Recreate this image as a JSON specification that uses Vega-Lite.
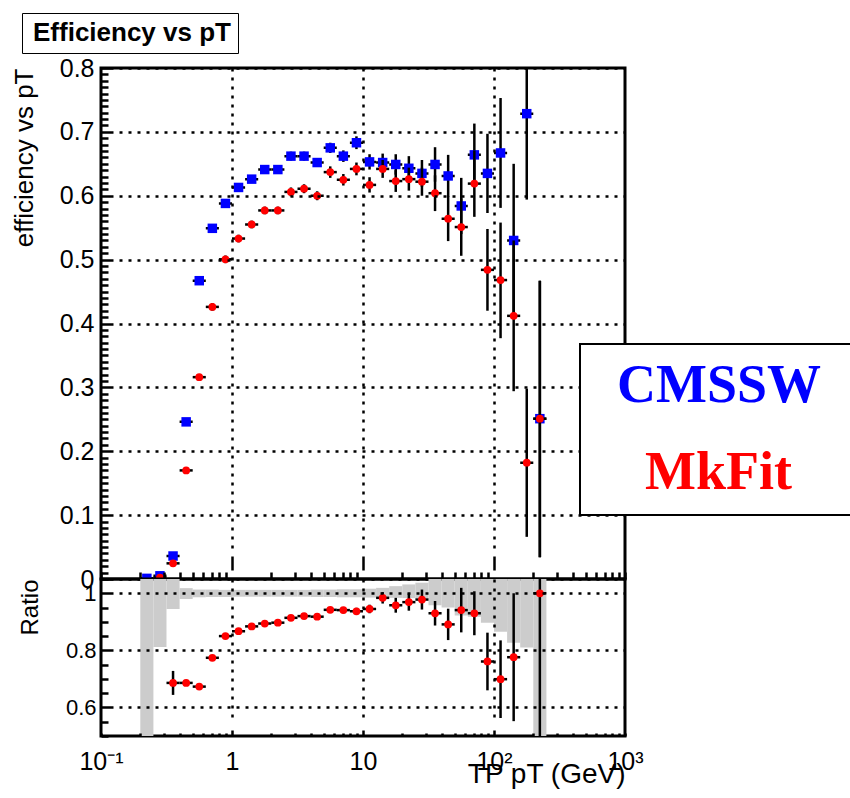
{
  "$schema": "https://vega.github.io/schema/vega-lite/v6.json",
  "padding": {"left": 9, "top": 12, "right": 0, "bottom": 0},
  "background": "white",
  "spacing": 0,
  "bounds": "flush",
  "datasets": {
    "d": [
      {"s":"CMSSW","x":0.2239,"lo":0.1995,"hi":0.2512,"y":0.001,"yl":0.0,"yh":0.002},
      {"s":"CMSSW","x":0.2818,"lo":0.2512,"hi":0.3162,"y":0.005,"yl":0.003,"yh":0.007},
      {"s":"CMSSW","x":0.3548,"lo":0.3162,"hi":0.3981,"y":0.036,"yl":0.031,"yh":0.041},
      {"s":"CMSSW","x":0.4467,"lo":0.3981,"hi":0.5012,"y":0.246,"yl":0.240,"yh":0.252},
      {"s":"CMSSW","x":0.5623,"lo":0.5012,"hi":0.6310,"y":0.467,"yl":0.461,"yh":0.473},
      {"s":"CMSSW","x":0.7079,"lo":0.6310,"hi":0.7943,"y":0.549,"yl":0.543,"yh":0.555},
      {"s":"CMSSW","x":0.8913,"lo":0.7943,"hi":1.0,"y":0.588,"yl":0.582,"yh":0.594},
      {"s":"CMSSW","x":1.122,"lo":1.0,"hi":1.259,"y":0.613,"yl":0.607,"yh":0.619},
      {"s":"CMSSW","x":1.413,"lo":1.259,"hi":1.585,"y":0.626,"yl":0.620,"yh":0.632},
      {"s":"CMSSW","x":1.778,"lo":1.585,"hi":1.995,"y":0.641,"yl":0.635,"yh":0.647},
      {"s":"CMSSW","x":2.239,"lo":1.995,"hi":2.512,"y":0.641,"yl":0.635,"yh":0.647},
      {"s":"CMSSW","x":2.818,"lo":2.512,"hi":3.162,"y":0.662,"yl":0.655,"yh":0.669},
      {"s":"CMSSW","x":3.548,"lo":3.162,"hi":3.981,"y":0.662,"yl":0.655,"yh":0.669},
      {"s":"CMSSW","x":4.467,"lo":3.981,"hi":5.012,"y":0.652,"yl":0.645,"yh":0.659},
      {"s":"CMSSW","x":5.623,"lo":5.012,"hi":6.310,"y":0.675,"yl":0.667,"yh":0.683},
      {"s":"CMSSW","x":7.079,"lo":6.310,"hi":7.943,"y":0.662,"yl":0.653,"yh":0.671},
      {"s":"CMSSW","x":8.913,"lo":7.943,"hi":10.0,"y":0.683,"yl":0.673,"yh":0.693},
      {"s":"CMSSW","x":11.22,"lo":10.0,"hi":12.59,"y":0.653,"yl":0.641,"yh":0.665},
      {"s":"CMSSW","x":14.13,"lo":12.59,"hi":15.85,"y":0.652,"yl":0.638,"yh":0.666},
      {"s":"CMSSW","x":17.78,"lo":15.85,"hi":19.95,"y":0.649,"yl":0.633,"yh":0.665},
      {"s":"CMSSW","x":22.39,"lo":19.95,"hi":25.12,"y":0.643,"yl":0.624,"yh":0.662},
      {"s":"CMSSW","x":28.18,"lo":25.12,"hi":31.62,"y":0.635,"yl":0.614,"yh":0.656},
      {"s":"CMSSW","x":35.48,"lo":31.62,"hi":39.81,"y":0.649,"yl":0.622,"yh":0.676},
      {"s":"CMSSW","x":44.67,"lo":39.81,"hi":50.12,"y":0.631,"yl":0.598,"yh":0.664},
      {"s":"CMSSW","x":56.23,"lo":50.12,"hi":63.10,"y":0.584,"yl":0.540,"yh":0.628},
      {"s":"CMSSW","x":70.79,"lo":63.10,"hi":79.43,"y":0.664,"yl":0.615,"yh":0.713},
      {"s":"CMSSW","x":89.13,"lo":79.43,"hi":100.0,"y":0.635,"yl":0.573,"yh":0.697},
      {"s":"CMSSW","x":112.2,"lo":100.0,"hi":125.9,"y":0.667,"yl":0.581,"yh":0.753},
      {"s":"CMSSW","x":141.3,"lo":125.9,"hi":158.5,"y":0.530,"yl":0.410,"yh":0.650},
      {"s":"CMSSW","x":177.8,"lo":158.5,"hi":199.5,"y":0.7285,"yl":0.594,"yh":0.85},
      {"s":"CMSSW","x":223.9,"lo":199.5,"hi":251.2,"y":0.251,"yl":0.034,"yh":0.467},

      {"s":"MkFit","x":0.2818,"lo":0.2512,"hi":0.3162,"y":0.002,"yl":0.001,"yh":0.003},
      {"s":"MkFit","x":0.3548,"lo":0.3162,"hi":0.3981,"y":0.0245,"yl":0.020,"yh":0.029},
      {"s":"MkFit","x":0.4467,"lo":0.3981,"hi":0.5012,"y":0.170,"yl":0.165,"yh":0.175},
      {"s":"MkFit","x":0.5623,"lo":0.5012,"hi":0.6310,"y":0.316,"yl":0.311,"yh":0.321},
      {"s":"MkFit","x":0.7079,"lo":0.6310,"hi":0.7943,"y":0.426,"yl":0.420,"yh":0.432},
      {"s":"MkFit","x":0.8913,"lo":0.7943,"hi":1.0,"y":0.5005,"yl":0.4945,"yh":0.5065},
      {"s":"MkFit","x":1.122,"lo":1.0,"hi":1.259,"y":0.533,"yl":0.527,"yh":0.539},
      {"s":"MkFit","x":1.413,"lo":1.259,"hi":1.585,"y":0.555,"yl":0.549,"yh":0.561},
      {"s":"MkFit","x":1.778,"lo":1.585,"hi":1.995,"y":0.577,"yl":0.571,"yh":0.583},
      {"s":"MkFit","x":2.239,"lo":1.995,"hi":2.512,"y":0.577,"yl":0.571,"yh":0.583},
      {"s":"MkFit","x":2.818,"lo":2.512,"hi":3.162,"y":0.606,"yl":0.599,"yh":0.613},
      {"s":"MkFit","x":3.548,"lo":3.162,"hi":3.981,"y":0.611,"yl":0.604,"yh":0.618},
      {"s":"MkFit","x":4.467,"lo":3.981,"hi":5.012,"y":0.600,"yl":0.593,"yh":0.607},
      {"s":"MkFit","x":5.623,"lo":5.012,"hi":6.310,"y":0.637,"yl":0.628,"yh":0.646},
      {"s":"MkFit","x":7.079,"lo":6.310,"hi":7.943,"y":0.625,"yl":0.616,"yh":0.634},
      {"s":"MkFit","x":8.913,"lo":7.943,"hi":10.0,"y":0.642,"yl":0.632,"yh":0.652},
      {"s":"MkFit","x":11.22,"lo":10.0,"hi":12.59,"y":0.617,"yl":0.605,"yh":0.629},
      {"s":"MkFit","x":14.13,"lo":12.59,"hi":15.85,"y":0.642,"yl":0.628,"yh":0.656},
      {"s":"MkFit","x":17.78,"lo":15.85,"hi":19.95,"y":0.623,"yl":0.606,"yh":0.640},
      {"s":"MkFit","x":22.39,"lo":19.95,"hi":25.12,"y":0.626,"yl":0.608,"yh":0.644},
      {"s":"MkFit","x":28.18,"lo":25.12,"hi":31.62,"y":0.622,"yl":0.600,"yh":0.644},
      {"s":"MkFit","x":35.48,"lo":31.62,"hi":39.81,"y":0.604,"yl":0.576,"yh":0.632},
      {"s":"MkFit","x":44.67,"lo":39.81,"hi":50.12,"y":0.564,"yl":0.529,"yh":0.599},
      {"s":"MkFit","x":56.23,"lo":50.12,"hi":63.10,"y":0.551,"yl":0.506,"yh":0.596},
      {"s":"MkFit","x":70.79,"lo":63.10,"hi":79.43,"y":0.619,"yl":0.567,"yh":0.671},
      {"s":"MkFit","x":89.13,"lo":79.43,"hi":100.0,"y":0.484,"yl":0.420,"yh":0.548},
      {"s":"MkFit","x":112.2,"lo":100.0,"hi":125.9,"y":0.468,"yl":0.377,"yh":0.558},
      {"s":"MkFit","x":141.3,"lo":125.9,"hi":158.5,"y":0.412,"yl":0.294,"yh":0.530},
      {"s":"MkFit","x":177.8,"lo":158.5,"hi":199.5,"y":0.182,"yl":0.066,"yh":0.298},
      {"s":"MkFit","x":223.9,"lo":199.5,"hi":251.2,"y":0.251,"yl":0.034,"yh":0.467},

      {"s":"Ratio","x":0.3548,"lo":0.3162,"hi":0.3981,"y":0.686,"yl":0.644,"yh":0.728},
      {"s":"Ratio","x":0.4467,"lo":0.3981,"hi":0.5012,"y":0.686,"yl":0.678,"yh":0.694},
      {"s":"Ratio","x":0.5623,"lo":0.5012,"hi":0.6310,"y":0.673,"yl":0.666,"yh":0.680},
      {"s":"Ratio","x":0.7079,"lo":0.6310,"hi":0.7943,"y":0.774,"yl":0.767,"yh":0.781},
      {"s":"Ratio","x":0.8913,"lo":0.7943,"hi":1.0,"y":0.850,"yl":0.843,"yh":0.857},
      {"s":"Ratio","x":1.122,"lo":1.0,"hi":1.259,"y":0.867,"yl":0.860,"yh":0.874},
      {"s":"Ratio","x":1.413,"lo":1.259,"hi":1.585,"y":0.884,"yl":0.877,"yh":0.891},
      {"s":"Ratio","x":1.778,"lo":1.585,"hi":1.995,"y":0.894,"yl":0.887,"yh":0.901},
      {"s":"Ratio","x":2.239,"lo":1.995,"hi":2.512,"y":0.897,"yl":0.890,"yh":0.904},
      {"s":"Ratio","x":2.818,"lo":2.512,"hi":3.162,"y":0.914,"yl":0.906,"yh":0.922},
      {"s":"Ratio","x":3.548,"lo":3.162,"hi":3.981,"y":0.920,"yl":0.912,"yh":0.928},
      {"s":"Ratio","x":4.467,"lo":3.981,"hi":5.012,"y":0.918,"yl":0.910,"yh":0.926},
      {"s":"Ratio","x":5.623,"lo":5.012,"hi":6.310,"y":0.942,"yl":0.932,"yh":0.952},
      {"s":"Ratio","x":7.079,"lo":6.310,"hi":7.943,"y":0.941,"yl":0.930,"yh":0.952},
      {"s":"Ratio","x":8.913,"lo":7.943,"hi":10.0,"y":0.937,"yl":0.925,"yh":0.949},
      {"s":"Ratio","x":11.22,"lo":10.0,"hi":12.59,"y":0.945,"yl":0.930,"yh":0.960},
      {"s":"Ratio","x":14.13,"lo":12.59,"hi":15.85,"y":0.984,"yl":0.964,"yh":1.004},
      {"s":"Ratio","x":17.78,"lo":15.85,"hi":19.95,"y":0.958,"yl":0.932,"yh":0.984},
      {"s":"Ratio","x":22.39,"lo":19.95,"hi":25.12,"y":0.969,"yl":0.939,"yh":0.999},
      {"s":"Ratio","x":28.18,"lo":25.12,"hi":31.62,"y":0.978,"yl":0.943,"yh":1.013},
      {"s":"Ratio","x":35.48,"lo":31.62,"hi":39.81,"y":0.930,"yl":0.887,"yh":0.973},
      {"s":"Ratio","x":44.67,"lo":39.81,"hi":50.12,"y":0.891,"yl":0.836,"yh":0.946},
      {"s":"Ratio","x":56.23,"lo":50.12,"hi":63.10,"y":0.941,"yl":0.863,"yh":1.019},
      {"s":"Ratio","x":70.79,"lo":63.10,"hi":79.43,"y":0.930,"yl":0.853,"yh":1.007},
      {"s":"Ratio","x":89.13,"lo":79.43,"hi":100.0,"y":0.761,"yl":0.660,"yh":0.862},
      {"s":"Ratio","x":112.2,"lo":100.0,"hi":125.9,"y":0.699,"yl":0.563,"yh":0.835},
      {"s":"Ratio","x":141.3,"lo":125.9,"hi":158.5,"y":0.776,"yl":0.552,"yh":1.000},
      {"s":"Ratio","x":223.9,"lo":199.5,"hi":251.2,"y":1.0,"yl":0.3,"yh":1.7},

      {"s":"Band","lo":0.1995,"hi":0.2512,"yl":0.3,"yh":1.7},
      {"s":"Band","lo":0.2512,"hi":0.3162,"yl":0.812,"yh":1.7},
      {"s":"Band","lo":0.3162,"hi":0.3981,"yl":0.945,"yh":1.7},
      {"s":"Band","lo":0.3981,"hi":0.5012,"yl":0.980,"yh":1.018},
      {"s":"Band","lo":0.5012,"hi":0.6310,"yl":0.986,"yh":1.013},
      {"s":"Band","lo":0.6310,"hi":0.7943,"yl":0.987,"yh":1.013},
      {"s":"Band","lo":0.7943,"hi":1.0,"yl":0.987,"yh":1.012},
      {"s":"Band","lo":1.0,"hi":1.259,"yl":0.988,"yh":1.012},
      {"s":"Band","lo":1.259,"hi":1.585,"yl":0.988,"yh":1.012},
      {"s":"Band","lo":1.585,"hi":1.995,"yl":0.988,"yh":1.012},
      {"s":"Band","lo":1.995,"hi":2.512,"yl":0.988,"yh":1.012},
      {"s":"Band","lo":2.512,"hi":3.162,"yl":0.988,"yh":1.012},
      {"s":"Band","lo":3.162,"hi":3.981,"yl":0.988,"yh":1.012},
      {"s":"Band","lo":3.981,"hi":5.012,"yl":0.987,"yh":1.013},
      {"s":"Band","lo":5.012,"hi":6.310,"yl":0.987,"yh":1.013},
      {"s":"Band","lo":6.310,"hi":7.943,"yl":0.986,"yh":1.014},
      {"s":"Band","lo":7.943,"hi":10.0,"yl":0.986,"yh":1.014},
      {"s":"Band","lo":10.0,"hi":12.59,"yl":0.985,"yh":1.016},
      {"s":"Band","lo":12.59,"hi":15.85,"yl":0.984,"yh":1.019},
      {"s":"Band","lo":15.85,"hi":19.95,"yl":0.984,"yh":1.025},
      {"s":"Band","lo":19.95,"hi":25.12,"yl":0.983,"yh":1.031},
      {"s":"Band","lo":25.12,"hi":31.62,"yl":0.982,"yh":1.037},
      {"s":"Band","lo":31.62,"hi":39.81,"yl":0.958,"yh":1.7},
      {"s":"Band","lo":39.81,"hi":50.12,"yl":0.950,"yh":1.7},
      {"s":"Band","lo":50.12,"hi":63.10,"yl":0.922,"yh":1.7},
      {"s":"Band","lo":63.10,"hi":79.43,"yl":0.918,"yh":1.7},
      {"s":"Band","lo":79.43,"hi":100.0,"yl":0.897,"yh":1.7},
      {"s":"Band","lo":100.0,"hi":125.9,"yl":0.865,"yh":1.7},
      {"s":"Band","lo":125.9,"hi":158.5,"yl":0.827,"yh":1.7},
      {"s":"Band","lo":158.5,"hi":199.5,"yl":0.810,"yh":1.7},
      {"s":"Band","lo":199.5,"hi":251.2,"yl":0.3,"yh":1.7}
    ]
  },
  "vconcat": [
    {
      "width": 524,
      "height": 511,
      "data": {"name": "d"},
      "layer": [
        {
          "transform": [{"filter": "datum.s == 'CMSSW'"}],
          "mark": {"type": "rule", "color": "black", "strokeWidth": 2.5, "clip": true},
          "encoding": {
            "x": {"field": "lo", "type": "quantitative",
              "scale": {"type": "log", "domain": [0.1, 1000], "nice": false},
              "axis": {
                "orient": "bottom", "title": null, "labels": false, "domain": false, "ticks": false, "tickCount": 1000,
                "values": [0.1,0.2,0.3,0.4,0.5,0.6,0.7,0.8,0.9,1,2,3,4,5,6,7,8,9,10,20,30,40,50,60,70,80,90,100,200,300,400,500,600,700,800,900,1000],
                "grid": true, "gridColor": "black", "gridWidth": 2.5, "gridOpacity": 1,
                "gridDash": {"condition": {"test": "indexof([1,10,100], datum.value) >= 0",
                  "value": [3,6,3,6,3,6,3,6,3,6,3,6,3,6,3,6,3,6,3,6,3,6,3,6,3,6,3,6,3,6,3,6,3,6,3,6,3,6,3,6,3,6,3,6,3,6,3,6,3,6,3,6,3,6,3,6,3,6,3,6,3,6,3,6,3,6,3,6,3,6,3,6,3,6,3,6,3,6,3,6,3,6,3,6,3,6,3,6,3,6,3,6,3,6,3,6,3,6,3,6,3,6,3,6,3,6,3,6,0,2,14,100]},
                  "value": [0, 504, 7, 2000]},
                "zindex": 1
              }
            },
            "x2": {"field": "hi"},
            "y": {"field": "y", "type": "quantitative",
              "scale": {"domain": [0, 0.8], "nice": false, "zero": false},
              "axis": {
                "orient": "left", "title": "efficiency vs pT", "titleAnchor": "end", "tickCount": 1000,
                "titleFont": "Liberation Sans", "titleFontSize": 26, "titleFontWeight": "normal", "titleColor": "black", "titlePadding": 22,
                "domain": false, "ticks": false,
                "values": [0,0.01,0.02,0.03,0.04,0.05,0.06,0.07,0.08,0.09,0.1,0.11,0.12,0.13,0.14,0.15,0.16,0.17,0.18,0.19,0.2,0.21,0.22,0.23,0.24,0.25,0.26,0.27,0.28,0.29,0.3,0.31,0.32,0.33,0.34,0.35,0.36,0.37,0.38,0.39,0.4,0.41,0.42,0.43,0.44,0.45,0.46,0.47,0.48,0.49,0.5,0.51,0.52,0.53,0.54,0.55,0.56,0.57,0.58,0.59,0.6,0.61,0.62,0.63,0.64,0.65,0.66,0.67,0.68,0.69,0.7,0.71,0.72,0.73,0.74,0.75,0.76,0.77,0.78,0.79,0.8],
                "labelExpr": "indexof([0.1,0.2,0.3,0.4,0.5,0.6,0.7,0.8], datum.value) >= 0 ? format(datum.value, '.1f') : (datum.value == 0 ? '0' : '')",
                "labelFont": "Liberation Sans", "labelFontSize": 25, "labelColor": "black",
                "labelPadding": 7, "labelOverlap": false, "labelFlush": false,
                "grid": true, "gridColor": "black", "gridWidth": 2.5, "gridOpacity": 1,
                "gridDash": {"condition": {"test": "indexof([0,0.1,0.2,0.3,0.4,0.5,0.6,0.7,0.8], datum.value) >= 0",
                  "value": [12,6,3,6,3,6,3,6,3,6,3,6,3,6,3,6,3,6,3,6,3,6,3,6,3,6,3,6,3,6,3,6,3,6,3,6,3,6,3,6,3,6,3,6,3,6,3,6,3,6,3,6,3,6,3,6,3,6,3,6,3,6,3,6,3,6,3,6,3,6,3,6,3,6,3,6,3,6,3,6,3,6,3,6,3,6,3,6,3,6,3,6,3,6,3,6,3,6,3,6,3,6,3,6,3,6,3,6,3,6,3,6,3,6,3,6,3,6,3,6,3,6]},
                  "value": [7, 2000]},
                "zindex": 1
              }
            },
            "strokeDash": {"datum": "Efficiency vs pT",
              "scale": {"domain": ["Efficiency vs pT"], "range": [[1, 0]]},
              "legend": {
                "title": null, "orient": "none", "legendX": -79, "legendY": -55,
                "fillColor": "white", "strokeColor": "black", "padding": 7,
                "symbolSize": 0, "symbolOpacity": 0, "symbolStrokeWidth": 0, "labelOffset": -22,
                "labelFont": "Liberation Sans", "labelFontWeight": "bold", "labelFontSize": 26, "labelColor": "black", "labelLimit": 400,
                "encode": {"legend": {"update": {"strokeWidth": {"value": 2}}}}
              }
            }
          }
        },
        {
          "transform": [{"filter": "datum.s == 'CMSSW'"}],
          "mark": {"type": "rule", "color": "black", "strokeWidth": 2.5, "clip": true},
          "encoding": {
            "x": {"field": "x", "type": "quantitative"},
            "y": {"field": "yl", "type": "quantitative"},
            "y2": {"field": "yh"}
          }
        },
        {
          "transform": [{"filter": "datum.s == 'CMSSW'"}],
          "mark": {"type": "point", "shape": "square", "filled": true, "size": 90, "opacity": 1, "clip": true},
          "encoding": {
            "x": {"field": "x", "type": "quantitative"},
            "y": {"field": "y", "type": "quantitative"},
            "color": {"field": "s", "type": "nominal",
              "scale": {"domain": ["CMSSW", "MkFit"], "range": ["#0000ff", "#ff0000"]},
              "legend": {
                "title": " ", "titleOrient": "right", "titlePadding": 40, "titleFontSize": 10, "titleOpacity": 0,
                "orient": "none", "legendX": 479, "legendY": 276,
                "fillColor": "white", "strokeColor": "black", "padding": 15,
                "symbolSize": 0, "symbolOpacity": 0, "symbolStrokeWidth": 0, "labelOffset": -32,
                "labelFont": "Liberation Serif", "labelFontWeight": "bold", "labelFontSize": 54, "labelLimit": 400,
                "rowPadding": 33,
                "encode": {
                  "labels": {"update": {
                    "fill": {"signal": "datum.value === 'CMSSW' ? '#0000ff' : '#ff0000'"},
                    "dx": {"signal": "datum.value === 'MkFit' ? 28 : 0"}
                  }},
                  "legend": {"update": {"strokeWidth": {"value": 2}}}
                }
              }
            }
          }
        },
        {
          "transform": [{"filter": "datum.s == 'MkFit'"}],
          "mark": {"type": "rule", "color": "black", "strokeWidth": 2.5, "clip": true},
          "encoding": {
            "x": {"field": "lo", "type": "quantitative"},
            "x2": {"field": "hi"},
            "y": {"field": "y", "type": "quantitative"}
          }
        },
        {
          "transform": [{"filter": "datum.s == 'MkFit'"}],
          "mark": {"type": "rule", "color": "black", "strokeWidth": 2.5, "clip": true},
          "encoding": {
            "x": {"field": "x", "type": "quantitative"},
            "y": {"field": "yl", "type": "quantitative"},
            "y2": {"field": "yh"}
          }
        },
        {
          "transform": [{"filter": "datum.s == 'MkFit'"}],
          "mark": {"type": "point", "shape": "circle", "filled": true, "size": 60, "opacity": 1, "clip": true},
          "encoding": {
            "x": {"field": "x", "type": "quantitative"},
            "y": {"field": "y", "type": "quantitative"},
            "color": {"field": "s", "type": "nominal"}
          }
        }
      ]
    },
    {
      "width": 524,
      "height": 157,
      "data": {"name": "d"},
      "layer": [
        {
          "transform": [{"filter": "datum.s == 'Band'"}],
          "mark": {"type": "rect", "color": "#cccccc", "clip": true},
          "encoding": {
            "x": {"field": "lo", "type": "quantitative",
              "scale": {"type": "log", "domain": [0.1, 1000], "nice": false},
              "axis": {
                "orient": "bottom", "domain": false, "ticks": false, "tickCount": 1000,
                "values": [0.1,0.2,0.3,0.4,0.5,0.6,0.7,0.8,0.9,1,2,3,4,5,6,7,8,9,10,20,30,40,50,60,70,80,90,100,200,300,400,500,600,700,800,900,1000],
                "labelExpr": "datum.value == 0.1 ? '10⁻¹' : datum.value == 1 ? '1' : datum.value == 10 ? '10' : datum.value == 100 ? '10²' : datum.value == 1000 ? '10³' : ''",
                "labelFont": "Liberation Sans", "labelFontSize": 25, "labelColor": "black",
                "labelPadding": 13, "labelOverlap": false, "labelFlush": false, "labelBaseline": "top",
                "grid": true, "gridColor": "black", "gridWidth": 2.5, "gridOpacity": 1,
                "gridDash": {"condition": {"test": "indexof([1,10,100], datum.value) >= 0",
                  "value": [3,6,3,6,3,6,3,6,3,6,3,6,3,6,3,6,3,6,3,6,3,6,3,6,3,6,3,6,3,6,3,6,0,7,6,100]},
                  "value": [0, 154, 3, 2000]},
                "title": "TP pT (GeV)", "titleAnchor": "end", "titleFont": "Liberation Sans", "titleFontSize": 28,
                "titleFontWeight": "normal", "titleColor": "black", "titlePadding": -14,
                "zindex": 1
              }
            },
            "x2": {"field": "hi"},
            "y": {"field": "yl", "type": "quantitative",
              "scale": {"domain": [0.5, 1.05], "nice": false, "zero": false},
              "axis": {
                "orient": "left", "title": "Ratio", "titleAnchor": "end", "tickCount": 1000,
                "titleFont": "Liberation Sans", "titleFontSize": 24, "titleFontWeight": "normal", "titleColor": "black", "titlePadding": 23,
                "domain": false, "ticks": false,
                "values": [0.5,0.55,0.6,0.65,0.7,0.75,0.8,0.85,0.9,0.95,1,1.05],
                "labelExpr": "datum.value == 1 ? '1' : (datum.value == 0.8 ? '0.8' : (datum.value == 0.6 ? '0.6' : ''))",
                "labelFont": "Liberation Sans", "labelFontSize": 22, "labelColor": "black",
                "labelPadding": 5, "labelOverlap": false, "labelFlush": false,
                "grid": true, "gridColor": "black", "gridWidth": 2.5, "gridOpacity": 1,
                "gridDash": {"condition": {"test": "indexof([0.6,0.8,1], datum.value) >= 0",
                  "value": [12,6,3,6,3,6,3,6,3,6,3,6,3,6,3,6,3,6,3,6,3,6,3,6,3,6,3,6,3,6,3,6,3,6,3,6,3,6,3,6,3,6,3,6,3,6,3,6,3,6,3,6,3,6,3,6,3,6,3,6,3,6,3,6,3,6,3,6,3,6,3,6,3,6,3,6,3,6,3,6,3,6,3,6,3,6,3,6,3,6,3,6,3,6,3,6,3,6,3,6,3,6,3,6,3,6,3,6,3,6,3,6,3,6,3,6,3,6,3,6,3,6]},
                  "value": [7, 2000]},
                "zindex": 1
              }
            },
            "y2": {"field": "yh"}
          }
        },
        {
          "transform": [{"filter": "datum.s == 'Ratio'"}],
          "mark": {"type": "rule", "color": "black", "strokeWidth": 2.5, "clip": true},
          "encoding": {
            "x": {"field": "lo", "type": "quantitative"},
            "x2": {"field": "hi"},
            "y": {"field": "y", "type": "quantitative"}
          }
        },
        {
          "transform": [{"filter": "datum.s == 'Ratio'"}],
          "mark": {"type": "rule", "color": "black", "strokeWidth": 2.5, "clip": true},
          "encoding": {
            "x": {"field": "x", "type": "quantitative"},
            "y": {"field": "yl", "type": "quantitative"},
            "y2": {"field": "yh"}
          }
        },
        {
          "transform": [{"filter": "datum.s == 'Ratio'"}],
          "mark": {"type": "point", "shape": "circle", "filled": true, "size": 60, "opacity": 1, "color": "#ff0000", "clip": true},
          "encoding": {
            "x": {"field": "x", "type": "quantitative"},
            "y": {"field": "y", "type": "quantitative"}
          }
        }
      ]
    }
  ],
  "config": {
    "font": "Liberation Sans",
    "view": {"stroke": "black", "strokeWidth": 3}
  }
}
